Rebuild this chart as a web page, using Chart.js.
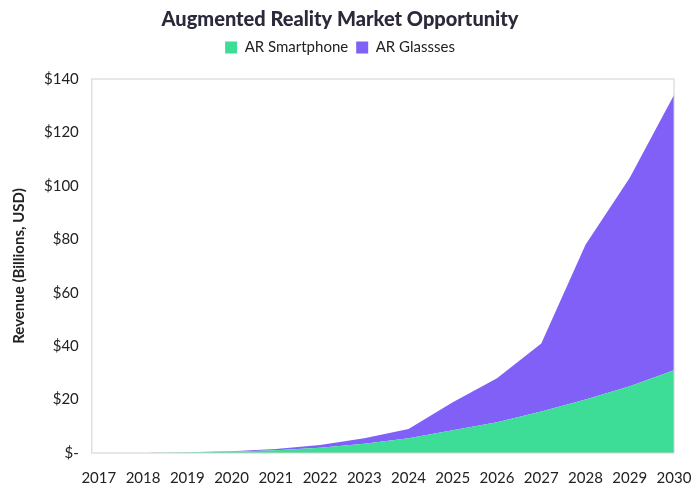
<!DOCTYPE html>
<html>
<head>
<meta charset="utf-8">
<script src="https://cdn.jsdelivr.net/npm/chart.js@4"></script>
<style>
body{margin:0;background:#fff;}
#wrap{width:700px;height:503px;position:relative;}
</style>
</head>
<body>
<div id="wrap"><canvas id="chart"></canvas></div>
<script>
const years = ["2017","2018","2019","2020","2021","2022","2023","2024","2025","2026","2027","2028","2029","2030"];
const smartphone = [0, 0, 0.2, 0.5, 1, 2, 3.5, 5.5, 8.5, 11.5, 15.5, 20, 25, 31];
const glasses = [0, 0, 0.1, 0.2, 0.5, 1, 2, 3.5, 10.5, 16.5, 25.5, 58, 78, 103];
const yTicks = ["$-","$20","$40","$60","$80","$100","$120","$140"];

const font = "Lato";

const plotBorder = {
    id:"plotBorder",
    afterDraw(chart){
        const a = chart.chartArea;
        const ctx = chart.ctx;
        ctx.save();
        ctx.strokeStyle = "#d0d0d0";
        ctx.lineWidth = 1;
        ctx.strokeRect(a.left - 7, a.top, a.right - a.left + 7, a.bottom - a.top);
        ctx.restore();
    }
};

// a little gap under the legend
const legendGap = {
    id:"legendGap",
    beforeInit(chart){
        const fit = chart.legend.fit;
        chart.legend.fit = function(){
            fit.bind(chart.legend)();
            this.height += 14;
        };
    }
};

new Chart(document.getElementById("chart"), {
    type:"line",
    data:{
        labels:years,
        datasets:[
            {
                label:"AR Smartphone",
                data:smartphone,
                backgroundColor:"#3ddc97",
                borderColor:"#3ddc97",
                borderWidth:0,
                pointRadius:0,
                fill:"origin",
                tension:0
            },
            {
                label:"AR Glassses",
                data:glasses,
                backgroundColor:"#8060f6",
                borderColor:"#8060f6",
                borderWidth:0,
                pointRadius:0,
                fill:"-1",
                tension:0
            }
        ]
    },
    options:{
        responsive:true,
        maintainAspectRatio:false,
        animation:false,
        layout:{padding:{left:6, right:26, top:4, bottom:8}},
        plugins:{
            title:{
                display:true,
                text:"Augmented Reality Market Opportunity",
                color:"#2a2a3a",
                font:{family:font, size:20, weight:"900"},
                padding:{top:4, bottom:0}
            },
            legend:{
                position:"top",
                labels:{
                    color:"#222",
                    boxWidth:12,
                    boxHeight:12,
                    padding:8,
                    font:{family:font, size:15}
                }
            },
            tooltip:{enabled:false}
        },
        scales:{
            x:{
                offset:false,
                grid:{display:false},
                border:{display:false},
                ticks:{color:"#222", font:{family:font, size:15}, maxRotation:0, padding:8}
            },
            y:{
                stacked:true,
                min:0,
                max:140,
                grid:{display:false},
                border:{display:false},
                ticks:{
                    stepSize:20,
                    color:"#222",
                    font:{family:font, size:15},
                    padding:12,
                    callback:(v) => yTicks[v / 20]
                },
                title:{
                    display:true,
                    text:"Revenue (Billions, USD)",
                    color:"#222",
                    font:{family:font, size:15, weight:"bold"}
                }
            }
        }
    },
    plugins:[plotBorder, legendGap]
});
</script>
</body>
</html>
